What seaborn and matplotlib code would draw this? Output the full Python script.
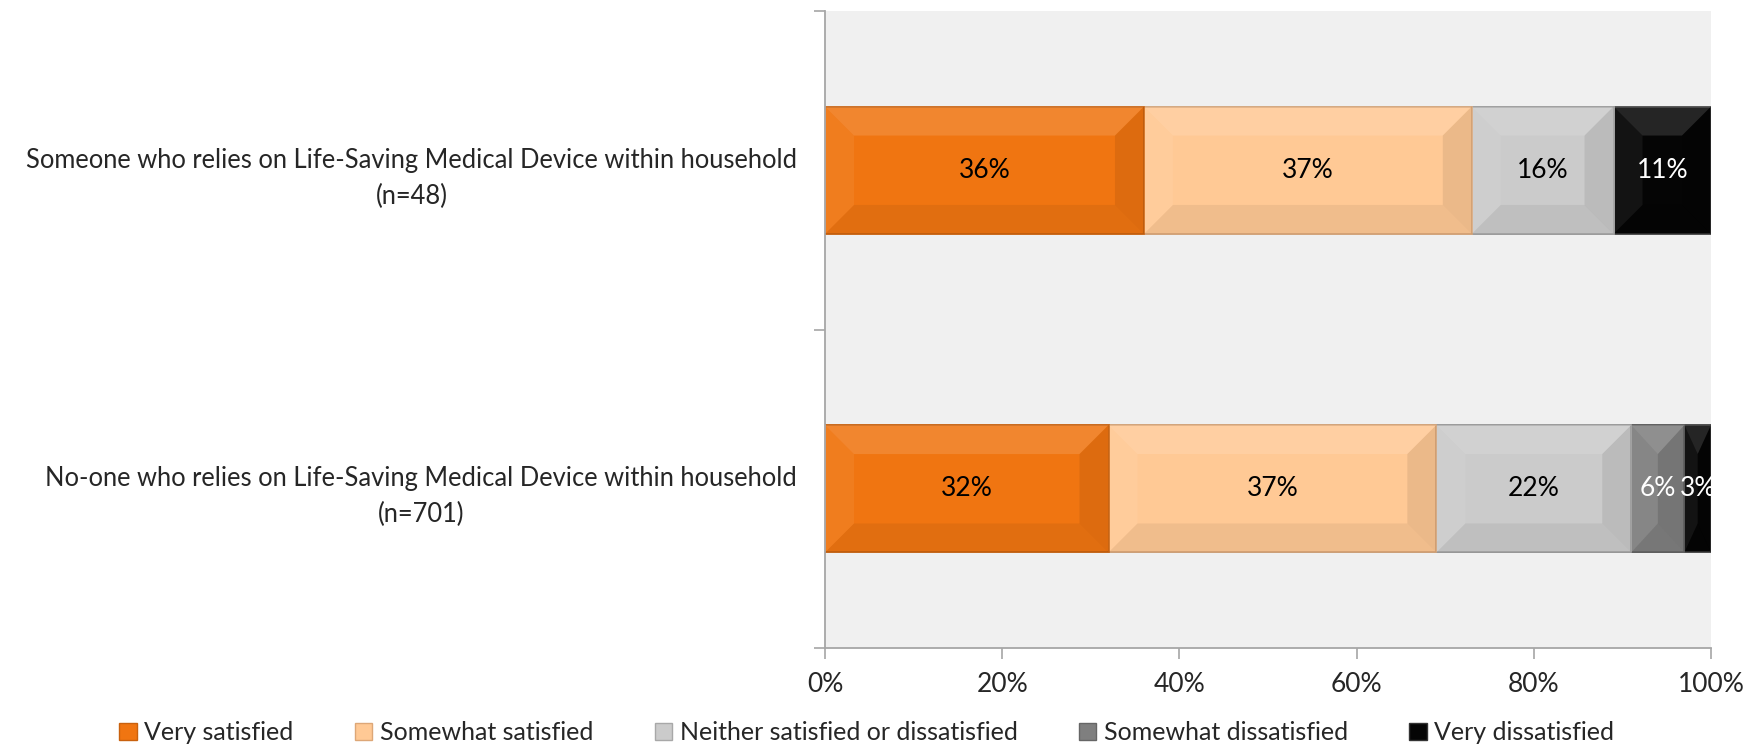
import numpy as np
import pandas as pd
import matplotlib
matplotlib.use("Agg")
import matplotlib.pyplot as plt
from matplotlib.patches import Polygon, Patch
import seaborn as sns

# Survey results: satisfaction by household type (percent of respondents)
groups = [
    "Someone who relies on Life-Saving Medical Device within household\n(n=48)",
    "No-one who relies on Life-Saving Medical Device within household\n(n=701)",
]
levels = [
    "Very satisfied",
    "Somewhat satisfied",
    "Neither satisfied or dissatisfied",
    "Somewhat dissatisfied",
    "Very dissatisfied",
]
very_satisfied = [36, 32]
somewhat_satisfied = [37, 37]
neither = [16, 22]
somewhat_dissatisfied = [0, 6]
very_dissatisfied = [11, 3]
x_ticks = [0, 20, 40, 60, 80, 100]

colors = ["#F07511", "#FFC995", "#CBCBCB", "#7F7F7F", "#050505"]
edge_colors = ["#C9610E", "#DDA777", "#A8A8A8", "#666666", "#333333"]
label_colors = ["black", "black", "black", "white", "white"]

sns.set_theme(style="white")
plt.rcParams["font.family"] = ["Lato", "DejaVu Sans"]

FS = 19

values = np.array([very_satisfied, somewhat_satisfied, neither,
                   somewhat_dissatisfied, very_dissatisfied], dtype=float)
cum = np.cumsum(values, axis=0)
lefts = cum - values

W, H = 1758, 750
fig = plt.figure(figsize=(W / 100, H / 100), dpi=100)
ax_l, ax_r, ax_t, ax_b = 825, 1711, 11, 648
ax = fig.add_axes([ax_l / W, 1 - ax_b / H, (ax_r - ax_l) / W, (ax_b - ax_t) / H])
ax.set_facecolor("#F0F0F0")

bar_w = 0.4
# Stacked bars: draw cumulative totals from the outermost segment inward
for i in range(len(levels) - 1, -1, -1):
    df = pd.DataFrame({"group": groups, "total": cum[i]})
    sns.barplot(data=df, x="total", y="group", orient="h", color=colors[i],
                width=bar_w, saturation=1, ax=ax, edgecolor=edge_colors[i],
                linewidth=1.2)

ax.set_xlim(0, 100)
ax.set_ylim(1.5, -0.5)

# Bevelled look on every segment
bev_px = 29
ax_w_px, ax_h_px = ax_r - ax_l, ax_b - ax_t
for i in range(len(levels)):
    for j in range(len(groups)):
        w = values[i, j]
        if w <= 0:
            continue
        x0, x1 = lefts[i, j], cum[i, j]
        y0, y1 = j - bar_w / 2, j + bar_w / 2  # y0 is top (axis inverted)
        bx = min(bev_px / ax_w_px * 100, w / 2)
        by = min(bev_px / ax_h_px * 2, bar_w / 2)
        ix0, ix1 = x0 + bx, x1 - bx
        iy0, iy1 = y0 + by, y1 - by
        faces = [
            ([(x0, y0), (x1, y0), (ix1, iy0), (ix0, iy0)], "white", 0.13),  # top
            ([(x0, y0), (ix0, iy0), (ix0, iy1), (x0, y1)], "white", 0.06),  # left
            ([(x0, y1), (ix0, iy1), (ix1, iy1), (x1, y1)], "black", 0.06),  # bottom
            ([(x1, y0), (x1, y1), (ix1, iy1), (ix1, iy0)], "black", 0.08),  # right
        ]
        for pts, fc, a in faces:
            ax.add_patch(Polygon(pts, closed=True, facecolor=fc, alpha=a,
                                 edgecolor="none", zorder=3))
        ax.text((x0 + x1) / 2, j, f"{int(w)}%", ha="center", va="center",
                fontsize=FS, color=label_colors[i], zorder=4)

# Axes styling
for s in ["top", "right"]:
    ax.spines[s].set_visible(False)
for s in ["left", "bottom"]:
    ax.spines[s].set_color("#A6A6A6")
    ax.spines[s].set_linewidth(1.3)

ax.set_xticks(x_ticks)
ax.set_xticklabels([f"{t}%" for t in x_ticks], fontsize=FS)
ax.tick_params(axis="x", length=8, width=1.2, color="#A6A6A6", pad=9,
               direction="out", bottom=True)

ax.set_yticks([-0.5, 0.5, 1.5])
ax.set_yticklabels([])
ax.set_yticks([0, 1], minor=True)
ax.set_yticklabels(groups, minor=True, fontsize=18.4, multialignment="center",
                   linespacing=1.55)
ax.tick_params(axis="y", which="minor", length=0, pad=20)
ax.tick_params(axis="y", which="major", length=8, width=1.2, color="#A6A6A6",
               direction="out", left=True)
ax.set_xlabel("")
ax.set_ylabel("")

handles = [Patch(facecolor=colors[i], edgecolor=edge_colors[i], label=levels[i])
           for i in range(len(levels))]
fig.legend(handles=handles, loc="center", bbox_to_anchor=(0.493, 0.023),
           ncol=5, frameon=False, fontsize=18, handlelength=0.7,
           handleheight=0.7, handletextpad=0.3, columnspacing=2.45)

fig.savefig("out.png", dpi=100)
